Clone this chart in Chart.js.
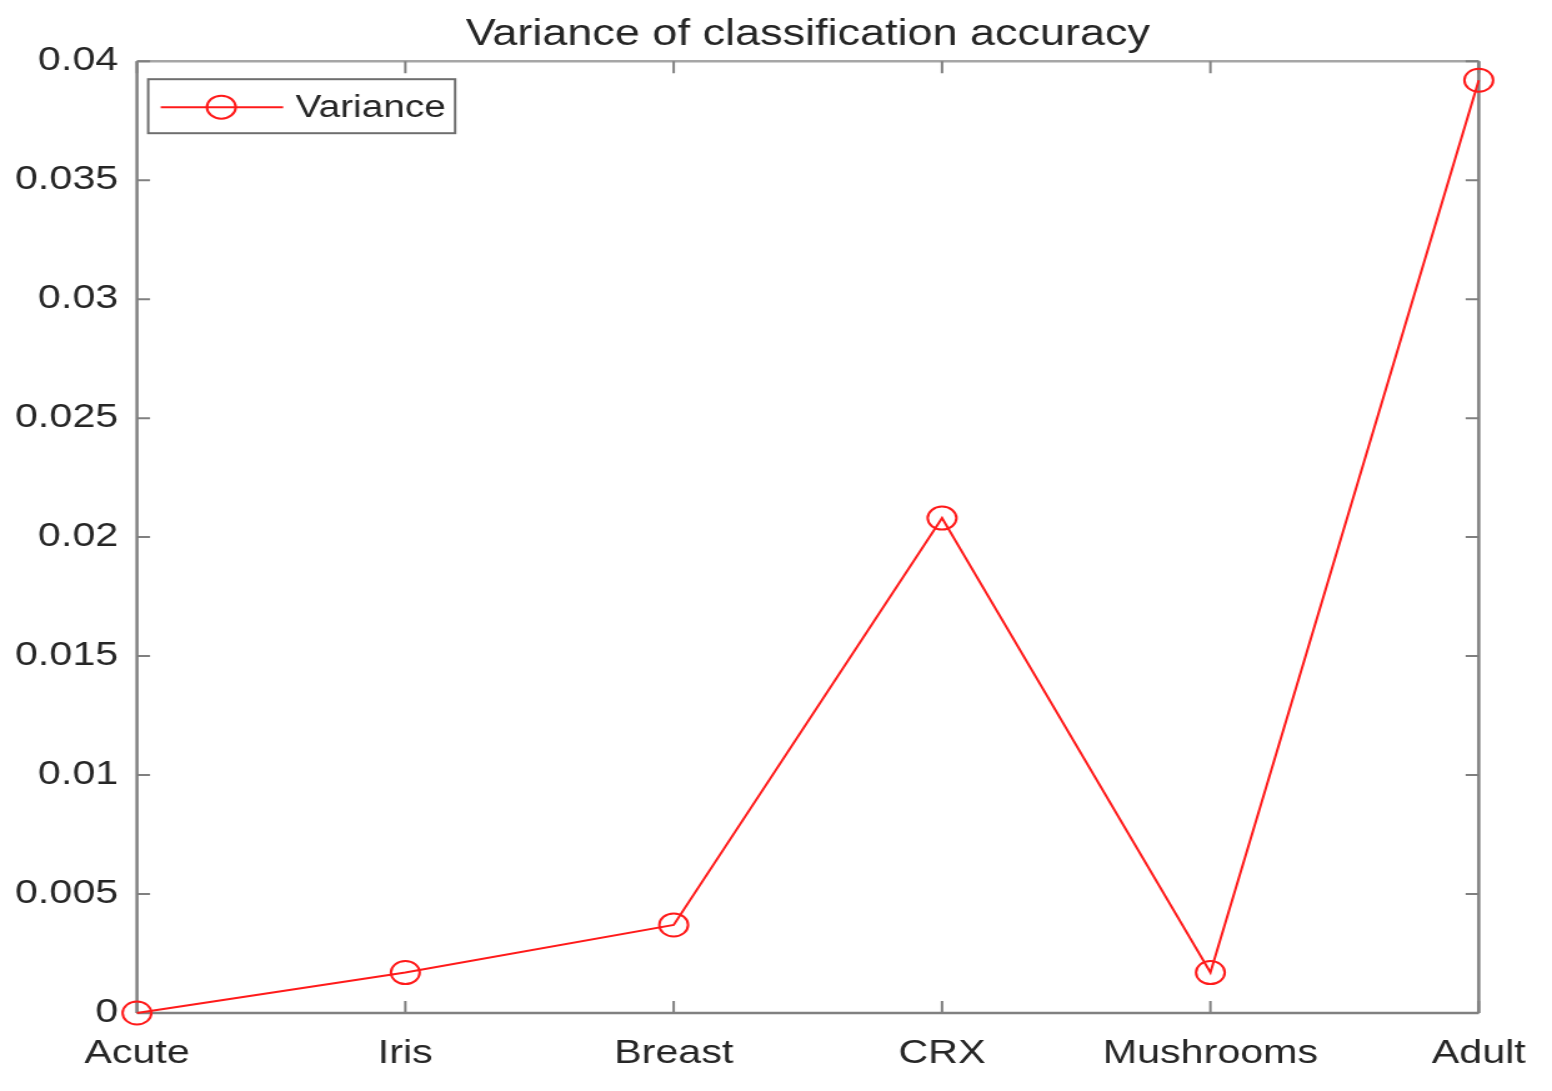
<!DOCTYPE html>
<html>
<head>
<meta charset="utf-8">
<title>Variance of classification accuracy</title>
<script src="https://cdn.jsdelivr.net/npm/chart.js@4.4.1/dist/chart.umd.min.js"></script>
<style>
  html, body { margin: 0; padding: 0; background: #fff; }
</style>
</head>
<body>
<!-- the source figure is stretched sideways, so the canvas is drawn narrow and shown wide -->
<canvas id="chart" width="1242" height="1091" style="display:block;width:1552px;height:1091px"></canvas>
<script>
// Data
const categories = ['Acute', 'Iris', 'Breast', 'CRX', 'Mushrooms', 'Adult'];
const variance = [0, 0.0017, 0.0037, 0.0208, 0.0017, 0.0392];
const yStep = 0.005;
const yTickLabels = ['0', '0.005', '0.01', '0.015', '0.02', '0.025', '0.03', '0.035', '0.04'];

const FONT = "'Liberation Sans', Arial, Helvetica, sans-serif";
const TEXT = '#262626';
const AXIS = '#808080';

// box round the plot with MATLAB style inward ticks
const framePlugin = {
  id: 'frame',
  beforeDatasetsDraw(chart) {
    const { ctx, chartArea: a, scales: { x, y } } = chart;
    ctx.save();
    ctx.strokeStyle = AXIS;
    ctx.lineWidth = 2.5;
    ctx.beginPath();
    ctx.moveTo(a.left, a.top); ctx.lineTo(a.left, a.bottom);
    ctx.moveTo(a.left, a.bottom); ctx.lineTo(a.right, a.bottom);
    ctx.moveTo(a.right, a.bottom); ctx.lineTo(a.right, a.top);
    ctx.stroke();
    ctx.strokeStyle = '#a6a6a6';
    ctx.beginPath();
    ctx.moveTo(a.left, a.top); ctx.lineTo(a.right, a.top);
    ctx.stroke();

    ctx.strokeStyle = AXIS;
    ctx.lineWidth = 2;
    ctx.beginPath();
    x.ticks.forEach((t, i) => {
      const px = x.getPixelForTick(i);
      ctx.moveTo(px, a.bottom); ctx.lineTo(px, a.bottom - 12);
      ctx.moveTo(px, a.top); ctx.lineTo(px, a.top + 12);
    });
    y.ticks.forEach((t, i) => {
      const py = y.getPixelForTick(i);
      ctx.moveTo(a.left, py); ctx.lineTo(a.left + 10.5, py);
      ctx.moveTo(a.right, py); ctx.lineTo(a.right - 10.5, py);
    });
    ctx.stroke();
    ctx.restore();
  }
};

// legend box in the top left corner of the plot
const legendPlugin = {
  id: 'boxLegend',
  afterDraw(chart) {
    const { ctx, chartArea: a } = chart;
    const ds = chart.data.datasets[0];
    const left = a.left + 9, top = a.top + 18, w = 245.6, h = 54;
    const cy = top + h / 2 + 1;
    ctx.save();
    ctx.strokeStyle = '#6e6e6e';
    ctx.lineWidth = 2;
    ctx.strokeRect(left, top, w, h);
    ctx.strokeStyle = ds.borderColor;
    ctx.lineWidth = ds.borderWidth;
    ctx.beginPath();
    ctx.moveTo(left + 10, cy); ctx.lineTo(left + 108, cy);
    ctx.stroke();
    ctx.lineWidth = ds.pointBorderWidth;
    ctx.beginPath();
    ctx.arc(left + 58.5, cy, ds.pointRadius, 0, Math.PI * 2);
    ctx.stroke();
    ctx.fillStyle = TEXT;
    ctx.font = '31px ' + FONT;
    ctx.textBaseline = 'middle';
    ctx.textAlign = 'left';
    ctx.fillText(ds.label, left + 118, cy + 1);
    ctx.restore();
  }
};

new Chart(document.getElementById('chart'), {
  type: 'line',
  data: {
    labels: categories,
    datasets: [{
      label: 'Variance',
      data: variance,
      borderColor: '#ff1a1a',
      borderWidth: 2,
      pointRadius: 11.5,
      pointHoverRadius: 11.5,
      pointBorderWidth: 2,
      pointBorderColor: '#ff1a1a',
      pointBackgroundColor: 'rgba(0,0,0,0)',
      tension: 0,
      fill: false,
      clip: false
    }]
  },
  options: {
    responsive: false,
    animation: false,
    devicePixelRatio: 1,
    layout: { padding: { top: 0, right: 54, bottom: 0, left: 0 } },
    scales: {
      x: {
        type: 'category',
        offset: false,
        grid: { display: false, drawTicks: false },
        border: { display: false },
        ticks: {
          autoSkip: false,
          maxRotation: 0,
          padding: 21,
          color: TEXT,
          font: { family: FONT, size: 33 }
        },
        afterFit(scale) { scale.height = 78; }
      },
      y: {
        min: 0,
        max: 0.04,
        grid: { display: false, drawTicks: false },
        border: { display: false },
        ticks: {
          stepSize: yStep,
          padding: 15,
          color: TEXT,
          font: { family: FONT, size: 33 },
          callback: (v) => yTickLabels[Math.round(v / yStep)]
        },
        afterFit(scale) { scale.width = 109.6; }
      }
    },
    plugins: {
      legend: { display: false },
      tooltip: { enabled: false },
      title: {
        display: true,
        fullSize: false,
        text: 'Variance of classification accuracy',
        color: TEXT,
        font: { family: FONT, size: 36, weight: 'normal' },
        padding: { top: 13, bottom: 5 }
      }
    }
  },
  plugins: [framePlugin, legendPlugin]
});
</script>
</body>
</html>
